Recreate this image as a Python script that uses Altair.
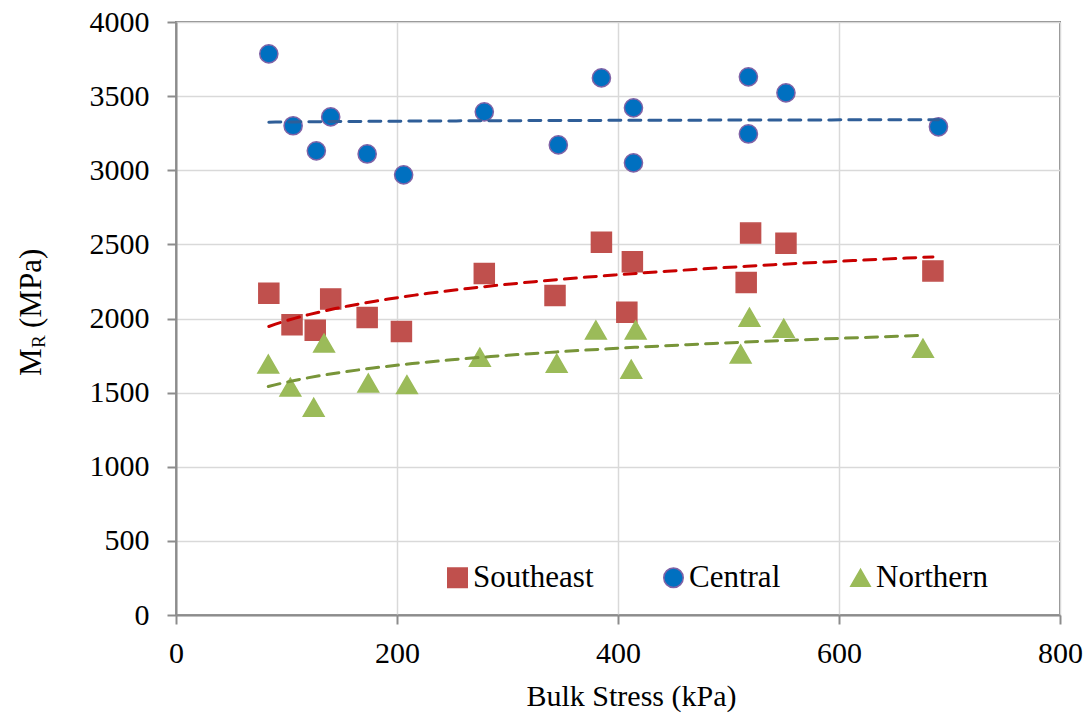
import altair as alt
import pandas as pd

series_names = ["Southeast", "Central", "Northern"]

se_x = [84, 105, 126, 140, 173, 204, 279, 343, 385, 408, 413, 516, 520, 552, 685]
se_y = [2171, 1957, 1921, 2132, 2006, 1912, 2303, 2155, 2515, 2043, 2382, 2243, 2576, 2508, 2321]

ce_x = [84, 106, 127, 140, 173, 206, 279, 346, 385, 414, 414, 518, 518, 552, 690]
ce_y = [3785, 3300, 3131, 3360, 3110, 2969, 3394, 3171, 3623, 3421, 3050, 3630, 3245, 3522, 3293]

no_x = [83.5, 103.5, 124.6, 134, 174, 209, 275, 344.5, 380, 412, 416, 511, 519, 550, 676]
no_y = [1693, 1537, 1401, 1834, 1565, 1554, 1739, 1698, 1923, 1658, 1923, 1761, 2009, 1934, 1800]

x_ticks = [0, 200, 400, 600, 800]
y_ticks = [0, 500, 1000, 1500, 2000, 2500, 3000, 3500, 4000]

fills = ["#C0504D", "#0070C0", "#9BBB59"]
strokes = ["#C0504D", "#7F62A6", "#9BBB59"]
shapes = ["square", "circle", "triangle-up"]
sizes = {"Southeast": 400, "Central": 330, "Northern": 430}
trend_colors = {"Southeast": "#C80000", "Central": "#2F5E98", "Northern": "#789539"}

rows = []
for name, xs, ys in [("Southeast", se_x, se_y), ("Central", ce_x, ce_y), ("Northern", no_x, no_y)]:
    for xv, yv in zip(xs, ys):
        rows.append({"series": name, "stress": xv, "mr": yv})
df = pd.DataFrame(rows)

FONT = "Liberation Serif"

xscale = alt.Scale(domain=[0, 800], nice=False, zero=False)
yscale = alt.Scale(domain=[0, 4000], nice=False, zero=False)

xaxis = alt.Axis(
    values=x_ticks, format="d", title="Bulk Stress (kPa)", grid=True, gridColor="#D9D9D9", gridWidth=1.5,
    domainColor="#8C8C8C", domainWidth=2, tickColor="#8C8C8C", tickWidth=2, tickSize=9,
    labelFont=FONT, labelFontSize=30, labelColor="black", labelPadding=14, labelFlush=False,
    titleFont=FONT, titleFontSize=30, titleFontWeight="normal", titleColor="black",
    titleBaseline="alphabetic", titleY=90, titleX=455,
)
yaxis = alt.Axis(
    values=y_ticks, format="d", title=None, grid=True, gridColor="#D9D9D9", gridWidth=1.5,
    domainColor="#8C8C8C", domainWidth=2, tickColor="#8C8C8C", tickWidth=2, tickSize=9,
    labelFont=FONT, labelFontSize=30, labelColor="black", labelPadding=18, labelFlush=False,
)

fill_scale = alt.Scale(domain=series_names, range=fills)
stroke_scale = alt.Scale(domain=series_names, range=strokes)
shape_scale = alt.Scale(domain=series_names, range=shapes)

legend = alt.Legend(
    title=None, orient="none", legendX=266, legendY=540, direction="horizontal",
    labelFont=FONT, labelFontSize=31, labelColor="black", labelOffset=0,
    symbolSize=380, symbolStrokeWidth=1.5, columnPadding=64, padding=0,
)

base = alt.Chart(df)

point_layers = []
for name in series_names:
    point_layers.append(
        base.transform_filter(alt.datum.series == name)
        .mark_point(filled=True, opacity=1, size=sizes[name], strokeWidth=1.5)
        .encode(
            x=alt.X("stress:Q", scale=xscale, axis=xaxis),
            y=alt.Y("mr:Q", scale=yscale, axis=yaxis),
            fill=alt.Fill("series:N", scale=fill_scale, legend=legend),
            stroke=alt.Stroke("series:N", scale=stroke_scale, legend=legend),
            shape=alt.Shape("series:N", scale=shape_scale, legend=legend),
        )
    )

trend_layers = []
for name in ["Central", "Southeast", "Northern"]:
    trend_layers.append(
        base.transform_filter(alt.datum.series == name)
        .transform_regression("stress", "mr", method="log")
        .mark_line(color=trend_colors[name], strokeDash=[12, 8], strokeWidth=3, strokeCap="round")
        .encode(x=alt.X("stress:Q", scale=xscale), y=alt.Y("mr:Q", scale=yscale))
    )

one = pd.DataFrame({"k": [0]})
ytitle_m = alt.Chart(one).mark_text(
    angle=270, align="left", baseline="alphabetic", font=FONT, fontSize=31, color="black"
).encode(x=alt.value(41 - 176), y=alt.value(376 - 22), text=alt.value("M"))
ytitle_r = alt.Chart(one).mark_text(
    angle=270, align="left", baseline="alphabetic", font=FONT, fontSize=19, color="black"
).encode(x=alt.value(45 - 176), y=alt.value(348 - 22), text=alt.value("R"))
ytitle_rest = alt.Chart(one).mark_text(
    angle=270, align="left", baseline="alphabetic", font=FONT, fontSize=31, color="black"
).encode(x=alt.value(41 - 176), y=alt.value(328 - 22), text=alt.value("(MPa)"))

chart = alt.layer(*point_layers, *trend_layers, ytitle_m, ytitle_r, ytitle_rest).properties(
    width=884, height=593,
    autosize=alt.AutoSizeParams(type="none"),
    padding={"left": 176, "top": 22, "right": 29, "bottom": 106},
    background="white",
).configure_view(stroke="#868686", strokeWidth=2)

chart.save("out.html", embed_options={"renderer": "svg", "actions": False})
